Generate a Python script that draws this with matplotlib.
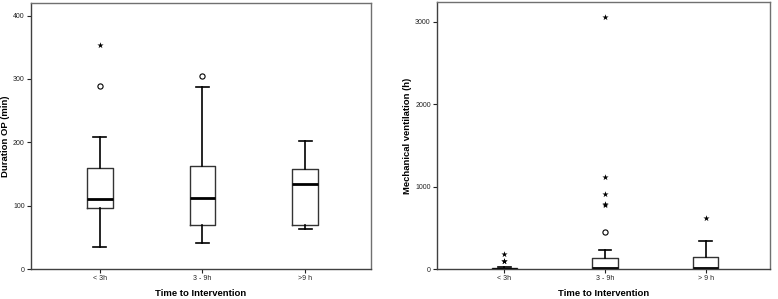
import matplotlib.pyplot as plt

groups = ["< 3h", "3 - 9h", "> 9 h"]
groups_left = ["< 3h", "3 - 9h", ">9 h"]

# Duration OP (min)
op_whislo = [35, 41, 63]
op_q1 = [97, 69, 70]
op_med = [111, 112, 134]
op_q3 = [160, 163, 158]
op_whishi = [209, 288, 202]
op_outliers = [[289], [305], []]
op_extremes = [[353], [], []]

# Mechanical ventilation (h)
mv_whislo = [0, 0, 0]
mv_q1 = [2, 0, 0]
mv_med = [6, 10, 10]
mv_q3 = [12, 133, 141]
mv_whishi = [22, 234, 335]
mv_outliers = [[], [449], []]
mv_extremes = [[186, 100, 92], [3058, 1112, 906, 793, 775], [619]]


def draw_box(ax, labels, whislo, q1, med, q3, whishi, outliers, extremes):
    stats = []
    for i in range(len(labels)):
        stats.append({"whislo": whislo[i], "q1": q1[i], "med": med[i],
                      "q3": q3[i], "whishi": whishi[i], "fliers": []})
    ax.bxp(stats, positions=[1, 2, 3], widths=0.25, showfliers=False,
           boxprops=dict(color="#333333", linewidth=1.0),
           medianprops=dict(color="black", linewidth=2.0),
           whiskerprops=dict(color="black", linewidth=1.2),
           capprops=dict(color="black", linewidth=1.2),
           capwidths=0.125)
    for i in range(len(labels)):
        if outliers[i]:
            ax.scatter([i + 1] * len(outliers[i]), outliers[i], marker="o",
                       s=14, facecolors="white", edgecolors="black",
                       linewidths=0.8, zorder=3)
        if extremes[i]:
            ax.scatter([i + 1] * len(extremes[i]), extremes[i], marker="*",
                       s=22, color="black", linewidths=0, zorder=3)
    ax.set_xlim(0.33, 3.64)
    ax.set_xticks([1, 2, 3])
    ax.set_xticklabels(labels)
    for s in ax.spines.values():
        s.set_color("#707070")
        s.set_linewidth(1.0)
    ax.spines["bottom"].set_color("#404040")
    ax.spines["left"].set_color("#404040")
    ax.tick_params(labelsize=5, length=3, width=0.8, pad=1.5, colors="#222222")
    ax.set_xlabel("Time to Intervention", fontsize=6.8, fontweight="bold",
                  labelpad=5)


plt.rcParams["font.family"] = ["Liberation Sans", "DejaVu Sans"]
fig = plt.figure(figsize=(7.78, 2.99), dpi=100)

ax1 = fig.add_axes([0.0398, 0.1003, 0.437, 0.89])
draw_box(ax1, groups_left, op_whislo, op_q1, op_med, op_q3, op_whishi,
         op_outliers, op_extremes)
ax1.set_ylim(0, 420)
ax1.set_yticks([0, 100, 200, 300, 400])
ax1.set_ylabel("Duration OP (min)", fontsize=6.8, fontweight="bold", labelpad=2)

ax2 = fig.add_axes([0.5617, 0.1003, 0.428, 0.893])
draw_box(ax2, groups, mv_whislo, mv_q1, mv_med, mv_q3, mv_whishi,
         mv_outliers, mv_extremes)
ax2.set_ylim(0, 3240)
ax2.set_yticks([0, 1000, 2000, 3000])
ax2.set_ylabel("Mechanical ventilation (h)", fontsize=6.8, fontweight="bold",
               labelpad=2)

fig.savefig("out.png", dpi=100)
